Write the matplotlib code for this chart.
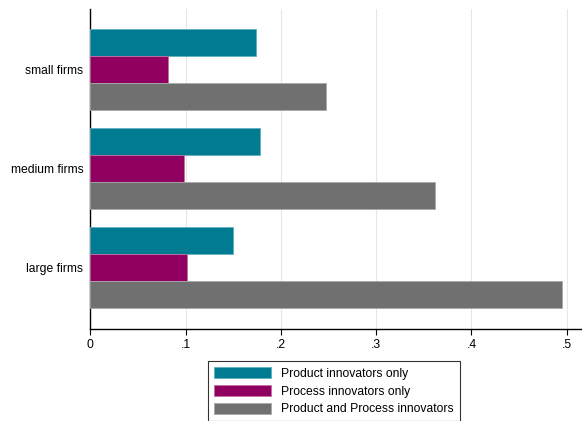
import matplotlib
matplotlib.use("Agg")
import matplotlib.pyplot as plt
import numpy as np

plt.rcParams['font.family'] = ['Liberation Sans', 'DejaVu Sans']

# Data
firm_sizes = ['small firms', 'medium firms', 'large firms']
product_only = [0.174, 0.178, 0.150]
process_only = [0.082, 0.098, 0.102]
product_and_process = [0.247, 0.362, 0.495]
series_labels = ['Product innovators only', 'Process innovators only',
                 'Product and Process innovators']
x_ticks = [0, 0.1, 0.2, 0.3, 0.4, 0.5]
x_tick_labels = ['0', '.1', '.2', '.3', '.4', '.5']

colors = ['#007b92', '#900060', '#707070']
edges = ['#5fb0c0', '#c070a0', '#a8a8a8']

W, H = 582, 421
fs = 8.7
fig = plt.figure(figsize=(W / 100, H / 100), dpi=100)
ax = fig.add_axes([90.3 / W, 1 - 328.7 / H, (581.7 - 90.3) / W, (328.7 - 9) / H])

bar_h = 27 / 99
pos = np.arange(len(firm_sizes))
series = [product_only, process_only, product_and_process]
handles = []
for i, (vals, c, e, lab) in enumerate(zip(series, colors, edges, series_labels)):
    b = ax.barh(pos + (i - 1) * bar_h, vals, height=bar_h, color=c,
                edgecolor=e, linewidth=0.6, label=lab, zorder=3)
    handles.append(b)

ax.set_ylim(2 + 0.616, -0.616)
ax.set_xlim(0, 0.5157)
ax.set_yticks(pos)
ax.set_yticklabels(firm_sizes, fontsize=fs)
ax.tick_params(axis='y', length=0, pad=5)
ax.set_xticks(x_ticks)
ax.set_xticklabels(x_tick_labels, fontsize=fs)
ax.tick_params(axis='x', length=4.5, width=0.8, color='black', pad=3)

ax.grid(axis='x', color='#e6e6e6', linewidth=0.8, zorder=0)
for s in ['top', 'right']:
    ax.spines[s].set_visible(False)
for s in ['left', 'bottom']:
    ax.spines[s].set_linewidth(1.0)
    ax.spines[s].set_color('black')

leg = fig.legend(handles=handles, loc='upper left',
                 bbox_to_anchor=(208 / W, 1 - 361 / H), fontsize=fs,
                 frameon=True, fancybox=False, borderaxespad=0,
                 handlelength=4.7, handleheight=1.07, handletextpad=0.83,
                 labelspacing=0.41, borderpad=0.5)
leg.get_frame().set_edgecolor('black')
leg.get_frame().set_linewidth(0.8)

fig.savefig('out.png', dpi=100)
